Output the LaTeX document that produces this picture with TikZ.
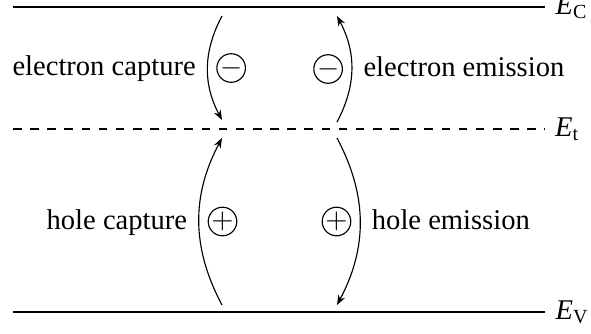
\documentclass[tikz,border=0pt]{standalone}
\usepackage{fontspec}
\setmainfont{Liberation Serif}
\usepackage{tikz}
\usetikzlibrary{arrows.meta}

\tikzset{
  band/.style={line width=0.8pt},
  trap/.style={line width=0.4pt,dashed},
  trans/.style={line width=0.4pt,-{Stealth[length=3.5pt,width=2.6pt]}},
  lbl/.style={inner sep=4pt,text height=1.6ex,text depth=0.45ex},
  charge/.style={circle,draw,line width=0.4pt,inner sep=0pt,minimum size=10pt,outer sep=3.2pt}
}
\newcommand{\chg}[1]{\makebox[0pt]{$#1$}}

\begin{document}
\begin{tikzpicture}[x=0.35pt,y=-0.35pt]
  \useasboundingbox (0,0) rectangle (591,333);
  % energy levels
  \foreach \y/\sub/\lvl in {7/C/band,129/t/trap,312/V/band}{
    \draw[\lvl] (13,\y) -- (545,\y) node[right] (E\sub) {$\mathit{E}_\mathrm{\sub}$};
  }
  % end points of the transitions
  \coordinate (ecapA) at (222,16);
  \coordinate (ecapB) at (222,120);
  \coordinate (eemiA) at (337,122);
  \coordinate (eemiB) at (337,16);
  \coordinate (hcapA) at (222,305);
  \coordinate (hcapB) at (222,138);
  \coordinate (hemiA) at (337,138);
  \coordinate (hemiB) at (337,305);
  % electrons
  \draw[trans] (ecapA) to[bend right=28]
    node[left,lbl] (ecapT) {electron capture}
    node[right,charge] (ecapQ) {\chg{-}} (ecapB);
  \draw[trans] (eemiA) to[bend right=28]
    node[right,lbl] (eemiT) {electron emission}
    node[left,charge] (eemiQ) {\chg{-}} (eemiB);
  % holes
  \draw[trans] (hcapA) to[bend left=28]
    node[left,lbl] (hcapT) {hole capture}
    node[right,charge] (hcapQ) {\chg{+}} (hcapB);
  \draw[trans] (hemiA) to[bend left=28]
    node[right,lbl] (hemiT) {hole emission}
    node[left,charge] (hemiQ) {\chg{+}} (hemiB);
\end{tikzpicture}
\end{document}
